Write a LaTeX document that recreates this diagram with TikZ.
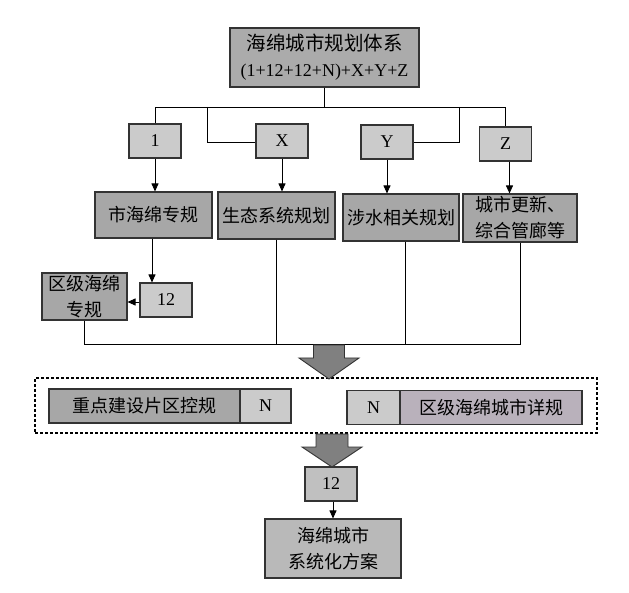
\documentclass[tikz,border=0pt]{standalone}
\usepackage{fontspec}
\setmainfont{Liberation Serif}
\newfontfamily\cjk{Noto Sans CJK SC}
\usetikzlibrary{arrows.meta}
\definecolor{boxdark}{HTML}{A7A7A7}
\definecolor{boxtop}{HTML}{ABABAB}
\definecolor{boxlight}{HTML}{CBCBCB}
\definecolor{boxmid}{HTML}{B9B9B9}
\definecolor{boxpink}{HTML}{B9B1BB}
\definecolor{arrowgray}{HTML}{808080}
\definecolor{edgegray}{HTML}{333333}
\begin{document}
\begin{tikzpicture}[x=1pt,y=-1pt,
  base/.style={draw=edgegray, line width=1.1pt, inner sep=0pt, align=center,
    font=\fontsize{18}{26}\selectfont},
  darkbox/.style={base, fill=boxdark},
  lightbox/.style={base, fill=boxlight, minimum width=52pt, minimum height=34pt},
  conn/.style={line width=0.9pt, draw=black},
  arr/.style={conn, -{Triangle[length=8pt,width=7pt]}},
  bigarrow/.style={fill=arrowgray, draw=edgegray, line width=0.9pt, line join=miter},
  dashbox/.style={draw=black, line width=1.6pt, dash pattern=on 3pt off 2pt}
]
\useasboundingbox (0,0) rectangle (629,593);

% top box
\node[base, fill=boxtop, minimum width=189pt, minimum height=59pt] (top) at (324.5,57.5)
  {{\cjk\fontsize{19.5}{26}\selectfont 海绵城市规划体系}\\(1+12+12+N)+X+Y+Z};

% letter boxes
\node[lightbox] (b1) at (155,141) {1};
\node[lightbox] (bx) at (282,141) {X};
\node[lightbox] (by) at (387,142) {Y};
\node[lightbox] (bz) at (505.5,144) {Z};

% row 2
\node[darkbox, minimum width=117pt, minimum height=46pt] (r1) at (153.5,215) {\cjk 市海绵专规};
\node[darkbox, minimum width=117pt, minimum height=47pt] (r2) at (276.5,215.5) {\cjk 生态系统规划};
\node[darkbox, minimum width=116pt, minimum height=47pt] (r3) at (401,217.5) {\cjk 涉水相关规划};
\node[darkbox, minimum width=114pt, minimum height=48pt] (r4) at (520,218) {\cjk 城市更新、\\\cjk 综合管廊等};

% district level
\node[lightbox] (t12a) at (166,300) {12};
\node[darkbox, minimum width=85pt, minimum height=47pt] (qj) at (84.5,296.5) {\cjk 区级海绵\\\cjk 专规};

% dashed group
\node[dashbox, minimum width=562pt, minimum height=55pt, inner sep=0pt] (grp) at (316,405.5) {};
\node[darkbox, minimum width=191pt, minimum height=34pt] (zd) at (144.5,406) {\cjk 重点建设片区控规};
\node[lightbox, minimum width=51pt] (nl) at (265.5,406) {N};
\node[lightbox, minimum width=53pt] (nr) at (373.5,407.5) {N};
\node[base, fill=boxpink, minimum width=182pt, minimum height=34pt] (xg) at (491,407.5) {\cjk 区级海绵城市详规};

% bottom
\node[lightbox, fill=boxmid!60!boxlight] (t12b) at (331,484) {12};
\node[base, fill=boxmid, minimum width=136pt, minimum height=59pt] (fin) at (333,548.5)
  {\cjk 海绵城市\\\cjk 系统化方案};

% top distribution lines
\coordinate (hy) at (0,107);
\coordinate (ky) at (0,142);
\draw[conn] (top.south) -- (top.south |- hy);
\draw[conn] (b1.north) -- (b1.north |- hy) -- (bz.north |- hy) -- (bz.north);
\draw[conn] (207,107) -- (207,142) -- (bx.west |- ky);
\draw[conn] (459,107) -- (459,142) -- (by.east |- ky);

% arrows to row 2
\draw[arr] (b1.south) -- (b1.south |- r1.north);
\draw[arr] (bx.south) -- (bx.south |- r2.north);
\draw[arr] (by.south) -- (by.south |- r3.north);
\draw[arr] ([xshift=4pt]bz.south) -- ([xshift=4pt]bz.south |- r4.north);

% 市海绵专规 -> 12 -> 区级海绵专规
\draw[arr] ([xshift=-1.5pt]r1.south) -- ([xshift=-1.5pt]r1.south |- t12a.north);
\draw[arr] (t12a.west |- 0,302) -- (qj.east |- 0,302);

% merge line
\coordinate (my) at (0,344);
\draw[conn] (qj.south) -- (qj.south |- my) -- (r4.south |- my) -- (r4.south);
\draw[conn] (r2.south) -- (r2.south |- my);
\draw[conn] ([xshift=4pt]r3.south) -- ([xshift=4pt]r3.south |- my);

% big arrows
\path[bigarrow, shift={(329,345)}] (-15.5,0) -- (15.5,0) -- (15.5,13) -- (30,13) -- (0,34) -- (-30,13) -- (-15.5,13) -- cycle;
\path[bigarrow, shift={(332,434)}] (-16,0) -- (16,0) -- (16,13) -- (30,13) -- (0,33) -- (-30,13) -- (-16,13) -- cycle;

% 12 -> final
\draw[arr] ([xshift=2pt]t12b.south) -- ([xshift=2pt]t12b.south |- fin.north);
\end{tikzpicture}
\end{document}
